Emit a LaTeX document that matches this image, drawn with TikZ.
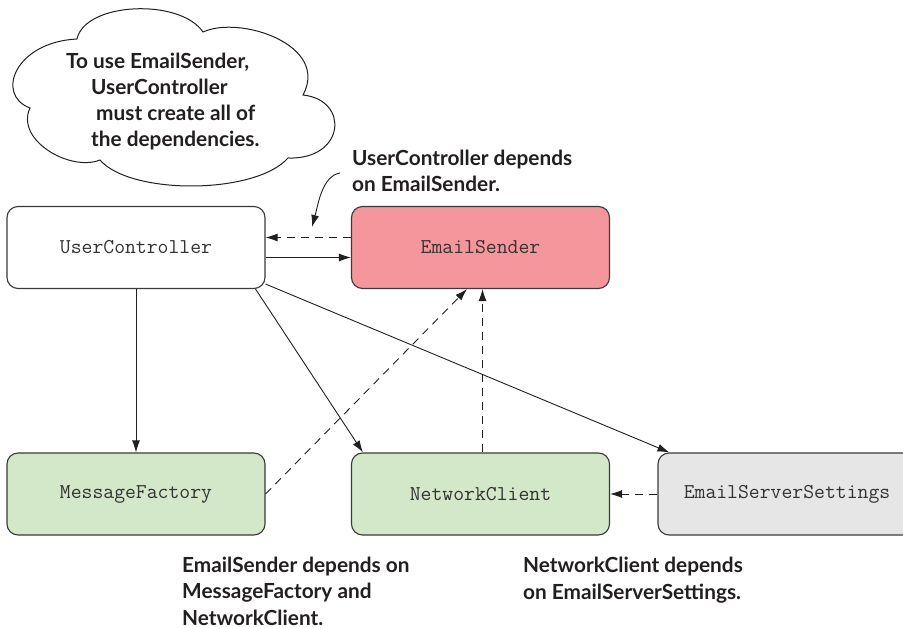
\documentclass[tikz,border=0pt]{standalone}
\usepackage{fontspec}
\setmainfont{Lato}
\usetikzlibrary{arrows.meta}
\definecolor{pinkfill}{HTML}{F4969B}
\definecolor{greenfill}{HTML}{D3E7C9}
\definecolor{grayfill}{HTML}{E6E6E6}
\definecolor{edge}{HTML}{3A3A3A}
\definecolor{ink}{HTML}{231F20}
\tikzset{
  box/.style={draw=edge, line width=1.1pt, rounded corners=11pt, minimum width=258pt,
    minimum height=82pt, inner sep=0pt, font=\ttfamily\fontsize{21.1}{22}\selectfont, text=black!80},
  lab/.style={font=\bfseries\fontsize{20.8}{26.2}\selectfont, text=ink, align=left, inner sep=0pt},
  conn/.style={draw=ink, line width=0.9pt, -{Latex[length=12pt,width=8pt]}},
  dashconn/.style={conn, dash pattern=on 8pt off 6pt},
}
\begin{document}
\begin{tikzpicture}[x=1pt,y=-1pt]
\clip (0,0) rectangle (903,628);
% cloud
\draw[line width=1pt, draw=ink, fill=white]
  (100,160) .. controls (70,172) and (15,140) .. (30,108)
  .. controls (-5,95) and (15,42) .. (77,39)
  .. controls (85,2) and (180,-2) .. (203,32)
  .. controls (240,15) and (330,45) .. (303,95)
  .. controls (350,100) and (345,160) .. (288,158)
  .. controls (255,195) and (130,195) .. cycle;
\node[lab, anchor=base west] (cloudtext) at (66,147)
  {To use EmailSender,\\\hspace*{25pt}UserController\\\hspace*{30pt}must create all of\\\hspace*{25pt}the dependencies.};

% boxes
\node[box, fill=white] (uc) at (136,247.5) {UserController};
\node[box, fill=pinkfill] (es) at (480.5,247.5) {EmailSender};
\node[box, fill=greenfill] (mf) at (136,494) {MessageFactory};
\node[box, fill=greenfill] (nc) at (480.5,494) {NetworkClient};
\node[box, fill=grayfill] (ess) at (787,494) {EmailServerSettings};

% labels
\node[lab, anchor=base west] (l1) at (352,192) {UserController depends\\on EmailSender.};
\node[lab, anchor=base west] (l2) at (182,625) {EmailSender depends on\\MessageFactory and\\NetworkClient.};
\node[lab, anchor=base west] (l3) at (523,599) {NetworkClient depends\\on EmailServerSettings.};

% connectors
\draw[conn] ([yshift=-10pt]uc.east) -- ([yshift=-10pt]es.west);
\draw[dashconn] ([yshift=10pt]es.west) -- ([yshift=10pt]uc.east);
\draw[conn] (uc.south) -- (mf.north);
\draw[conn] ([xshift=-10pt]uc.south east) -- ([xshift=12pt]nc.north west);
\draw[conn] ([yshift=5pt]uc.south east) -- ([xshift=12pt]ess.north west);
\draw[dashconn] (mf.east) -- ([xshift=-13.5pt]es.south);
\draw[dashconn] ([xshift=2pt]nc.north) -- ([xshift=2pt]es.south);
\draw[dashconn] (ess.west) -- (nc.east);
\coordinate (cs) at (340,173);
\coordinate (ce) at (312,227);
\draw[conn] (cs) .. controls (322,176) and (318,205) .. (ce);
\end{tikzpicture}
\end{document}
